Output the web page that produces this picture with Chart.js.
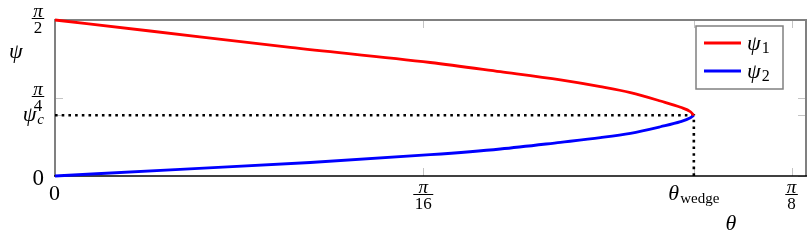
<!DOCTYPE html>
<html>
<head>
<meta charset="utf-8">
<script src="https://cdn.jsdelivr.net/npm/chart.js@4.4.0/dist/chart.umd.min.js"></script>
<style>
  html, body { margin: 0; padding: 0; background: #fff; }
</style>
</head>
<body>
<canvas id="chart" width="810" height="240"></canvas>
<script>
// values
const thetaWedge = 0.3406
const psiC = 0.611

const theta1 = [0, 0.0507, 0.1254, 0.2001, 0.2374, 0.2695, 0.2908, 0.3068, 0.3228, 0.3335, 0.3388, 0.3406]
const psi1 = [1.5708, 1.460, 1.296, 1.143, 1.050, 0.967, 0.899, 0.839, 0.755, 0.692, 0.647, 0.611]
const theta2 = [0, 0.0667, 0.1361, 0.2001, 0.2374, 0.2695, 0.2908, 0.3068, 0.3228, 0.3335, 0.3388, 0.3406]
const psi2 = [0, 0.0675, 0.136, 0.2145, 0.272, 0.339, 0.386, 0.430, 0.496, 0.547, 0.587, 0.611]

const xTickValues = [0, Math.PI / 16, thetaWedge, Math.PI / 8]
const xTickLabels = ['0', 'π/16', 'θ_wedge', 'π/8']
const yTickValues = [0, psiC, Math.PI / 4, Math.PI / 2]
const yTickLabels = ['0', 'ψ_c', 'π/4', 'π/2']

const seriesNames = ['ψ_1', 'ψ_2']
const seriesColors = ['#ff0000', '#0000ff']

const serif = '"Liberation Serif", "DejaVu Serif", serif'
const italic = (size) => `italic ${size}px ${serif}`
const upright = (size) => `${size}px ${serif}`

const toPoints = (xs, ys) => xs.map((x, i) => ({ x, y: ys[i] }))

// fraction like π/16, centered on cx, bar at barY
const drawFrac = (ctx, label, cx, barY) => {
  const [num, den] = label.split('/')
  ctx.font = italic(19)
  const wn = ctx.measureText(num).width
  ctx.font = upright(17)
  const wd = ctx.measureText(den).width
  const w = Math.max(wn, wd) + 3
  ctx.textAlign = 'center'
  ctx.textBaseline = 'alphabetic'
  ctx.font = italic(19)
  ctx.fillText(num, cx, barY - 1.5)
  ctx.font = upright(17)
  ctx.fillText(den, cx, barY + 14.5)
  ctx.beginPath()
  ctx.lineWidth = 1
  ctx.strokeStyle = '#000'
  ctx.moveTo(cx - w / 2, barY)
  ctx.lineTo(cx + w / 2, barY)
  ctx.stroke()
}

// symbol with subscript, x is anchor for align (left / center / right)
const drawSub = (ctx, label, x, baseline, align, size = 22, subSize = 15) => {
  const [main, sub] = label.split('_')
  const subFont = /^[a-z]$/.test(sub) ? italic(subSize) : upright(subSize)
  ctx.font = italic(size)
  const wm = ctx.measureText(main).width
  ctx.font = subFont
  const ws = sub ? ctx.measureText(sub).width : 0
  const total = wm + ws + 1
  let left = x
  if (align === 'center') left = x - total / 2
  if (align === 'right') left = x - total
  ctx.textAlign = 'left'
  ctx.textBaseline = 'alphabetic'
  ctx.font = /^[0-9]+$/.test(main) ? upright(size) : italic(size)
  ctx.fillText(main, left, baseline)
  if (sub) {
    ctx.font = subFont
    ctx.fillText(sub, left + wm + 1, baseline + 3)
  }
}

const framePlugin = {
  id: 'frame',
  beforeDatasetsDraw(chart) {
    const { ctx, chartArea: a, scales } = chart
    ctx.save()
    // tick marks on both sides
    ctx.strokeStyle = '#c4c4c4'
    ctx.lineWidth = 1
    xTickValues.forEach(v => {
      const px = Math.round(scales.x.getPixelForValue(v)) + 0.5
      ctx.beginPath()
      ctx.moveTo(px, a.bottom); ctx.lineTo(px, a.bottom - 8)
      ctx.moveTo(px, a.top); ctx.lineTo(px, a.top + 8)
      ctx.stroke()
    })
    yTickValues.forEach(v => {
      const py = Math.round(scales.y.getPixelForValue(v)) + 0.5
      ctx.beginPath()
      ctx.moveTo(a.left, py); ctx.lineTo(a.left + 8, py)
      ctx.moveTo(a.right, py); ctx.lineTo(a.right - 8, py)
      ctx.stroke()
    })
    // frame
    ctx.strokeStyle = '#808080'
    ctx.lineWidth = 2
    ctx.beginPath()
    ctx.moveTo(a.left, a.bottom)
    ctx.lineTo(a.left, a.top)
    ctx.lineTo(a.right, a.top)
    ctx.lineTo(a.right, a.bottom)
    ctx.stroke()
    ctx.strokeStyle = '#000'
    ctx.lineWidth = 1.3
    ctx.beginPath()
    ctx.moveTo(a.left - 1, a.bottom)
    ctx.lineTo(a.right + 1, a.bottom)
    ctx.stroke()
    ctx.restore()
  },
  afterDatasetsDraw(chart) {
    const { ctx, chartArea: a, scales } = chart
    ctx.save()
    ctx.fillStyle = '#000'

    // x tick labels
    xTickValues.forEach((v, i) => {
      const px = scales.x.getPixelForValue(v)
      const lab = xTickLabels[i]
      if (lab.includes('/')) drawFrac(ctx, lab, px, a.bottom + 18.5)
      else drawSub(ctx, lab, px, a.bottom + 24, 'center', 22)
    })
    // y tick labels
    yTickValues.forEach((v, i) => {
      const py = scales.y.getPixelForValue(v)
      const lab = yTickLabels[i]
      if (lab.includes('/')) drawFrac(ctx, lab, a.left - 17, py - 1.5)
      else if (lab === '0') drawSub(ctx, lab, a.left - 10, py + 9, 'right', 23)
      else drawSub(ctx, lab, a.left - 11, py + 6, 'right', 22)
    })

    // axis labels
    ctx.font = italic(22)
    ctx.textAlign = 'left'
    ctx.fillText('ψ', 9, 58)
    ctx.textAlign = 'center'
    ctx.fillText('θ', 731, 230)

    // legend
    const lx = a.right - 110, ly = a.top + 6
    ctx.fillStyle = '#fff'
    ctx.fillRect(lx, ly, 87, 63)
    ctx.strokeStyle = '#808080'
    ctx.lineWidth = 1.5
    ctx.strokeRect(lx, ly, 87, 63)
    seriesNames.forEach((name, i) => {
      const yy = ly + 17 + i * 28
      ctx.strokeStyle = seriesColors[i]
      ctx.lineWidth = 2.8
      ctx.beginPath()
      ctx.moveTo(lx + 8, yy)
      ctx.lineTo(lx + 45, yy)
      ctx.stroke()
      ctx.fillStyle = '#000'
      drawSub(ctx, name, lx + 51, yy + 7, 'left', 22, 16)
    })
    ctx.restore()
  }
}

const ctx = document.getElementById('chart')

const chart = new Chart(ctx, {
  type: 'line',
  data: {
    datasets: [
      {
        label: seriesNames[0],
        data: toPoints(theta1, psi1),
        borderColor: seriesColors[0],
        borderWidth: 2.8,
        pointRadius: 0,
        cubicInterpolationMode: 'monotone',
        clip: 4
      },
      {
        label: seriesNames[1],
        data: toPoints(theta2, psi2),
        borderColor: seriesColors[1],
        borderWidth: 2.8,
        pointRadius: 0,
        cubicInterpolationMode: 'monotone',
        clip: 4
      },
      {
        label: 'guide',
        data: [{ x: 0, y: psiC }, { x: thetaWedge, y: psiC }, { x: thetaWedge, y: 0 }],
        borderColor: '#000',
        borderWidth: 2.6,
        borderDash: [2.6, 4.1],
        pointRadius: 0,
        tension: 0
      }
    ]
  },
  options: {
    responsive: false,
    animation: false,
    events: [],
    layout: { padding: { left: 55, right: 4, top: 20, bottom: 64 } },
    plugins: {
      legend: { display: false },
      tooltip: { enabled: false }
    },
    scales: {
      x: { type: 'linear', min: 0, max: 0.4004, display: false },
      y: { type: 'linear', min: 0, max: Math.PI / 2, display: false }
    }
  },
  plugins: [framePlugin]
});
</script>
</body>
</html>
